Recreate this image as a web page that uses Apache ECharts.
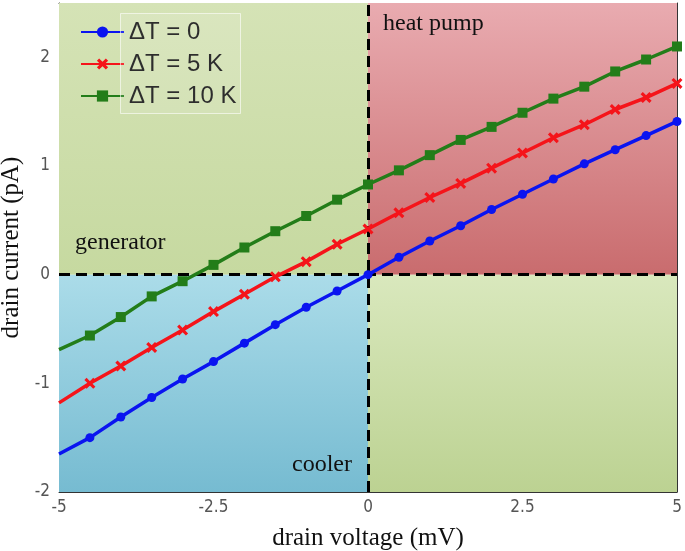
<!DOCTYPE html>
<html>
<head>
<meta charset="utf-8">
<script src="https://cdn.jsdelivr.net/npm/echarts@6/dist/echarts.min.js"></script>
<style>html,body{margin:0;padding:0;background:#fff;}#c{width:685px;height:551px;}</style>
</head>
<body>
<div id="c"></div>
<script>
// ---- data ----
var voltage = [-5, -4.5, -4, -3.5, -3, -2.5, -2, -1.5, -1, -0.5, 0, 0.5, 1, 1.5, 2, 2.5, 3, 3.5, 4, 4.5, 5];
var currentDT0 = [-1.65, -1.50, -1.31, -1.13, -0.96, -0.80, -0.63, -0.46, -0.30, -0.15, 0.00, 0.16, 0.31, 0.45, 0.60, 0.74, 0.88, 1.02, 1.15, 1.28, 1.41];
var currentDT5 = [-1.18, -1.00, -0.84, -0.67, -0.51, -0.34, -0.18, -0.02, 0.12, 0.28, 0.42, 0.57, 0.71, 0.84, 0.98, 1.12, 1.26, 1.38, 1.52, 1.63, 1.76];
var currentDT10 = [-0.69, -0.56, -0.39, -0.20, -0.06, 0.09, 0.25, 0.40, 0.54, 0.69, 0.83, 0.96, 1.10, 1.24, 1.36, 1.49, 1.62, 1.73, 1.87, 1.98, 2.10];
var seriesNames = ['\u0394T = 0', '\u0394T = 5 K', '\u0394T = 10 K'];
var xTicks = [-5, -2.5, 0, 2.5, 5];
var yTicks = [-2, -1, 0, 1, 2];
var quadrantLabels = ['generator', 'heat pump', 'cooler'];
var xLabel = 'drain voltage (mV)';
var yLabel = 'drain current (pA)';

// ---- chart ----
var chart = echarts.init(document.getElementById('c'), null, {renderer: 'canvas'});
var G = {left: 59, right: 8, top: 3, bottom: 59};
var serif = "'Liberation Serif', 'Times New Roman', serif";
var narrow = "'Liberation Sans Narrow', 'DejaVu Sans Condensed', 'Liberation Sans', sans-serif";

function pts(ys) {
  return voltage.map(function (x, i) {
    var item = {value: [x, ys[i]]};
    if (i === 0) item.symbol = 'none';
    return item;
  });
}
function grad(top, bottom) {
  return {type: 'linear', x: 0, y: 0, x2: 0, y2: 1,
    colorStops: [{offset: 0, color: top}, {offset: 1, color: bottom}]};
}
var crossPath = 'path://M0,2 L2,0 L5,3 L8,0 L10,2 L7,5 L10,8 L8,10 L5,7 L2,10 L0,8 L3,5 Z';

var option = {
  animation: false,
  backgroundColor: '#ffffff',
  grid: {left: G.left, right: G.right, top: G.top, bottom: G.bottom, containLabel: false, outerBoundsMode: 'none'},
  legend: {
    orient: 'vertical', left: 75, top: 15,
    itemWidth: 43, itemHeight: 14, itemGap: 8,
    data: seriesNames,
    textStyle: {fontFamily: "'Liberation Sans', Arial, sans-serif", fontSize: 24, color: '#111', lineHeight: 24}
  },
  xAxis: [{
    type: 'value', min: xTicks[0], max: xTicks[xTicks.length - 1], interval: 2.5,
    name: xLabel, nameLocation: 'middle', nameGap: 34,
    nameTextStyle: {fontFamily: serif, fontSize: 25, color: '#111'},
    axisLine: {show: true, onZero: false, lineStyle: {color: '#333', width: 1}},
    axisTick: {show: true, inside: true, length: 6, lineStyle: {color: '#333'}},
    axisLabel: {fontFamily: narrow, fontSize: 17, color: '#555', margin: 7,
      formatter: function (v) { return String(v); }},
    splitLine: {show: false}
  }, {
    type: 'value', position: 'top', min: xTicks[0], max: xTicks[xTicks.length - 1], interval: 2.5,
    axisLine: {show: true, onZero: false, lineStyle: {color: '#333', width: 1}},
    axisTick: {show: true, inside: true, length: 6, lineStyle: {color: '#333'}},
    axisLabel: {show: false}, splitLine: {show: false}
  }],
  yAxis: [{
    type: 'value', min: yTicks[0], max: 2.5, interval: 1,
    name: yLabel, nameLocation: 'middle', nameGap: 30, nameRotate: 90,
    nameTextStyle: {fontFamily: serif, fontSize: 25, color: '#111'},
    axisLine: {show: true, onZero: false, lineStyle: {color: '#333', width: 1}},
    axisTick: {show: true, inside: true, length: 6, lineStyle: {color: '#333'}},
    axisLabel: {fontFamily: narrow, fontSize: 17, color: '#555', margin: 9,
      formatter: function (v) { return yTicks.indexOf(v) >= 0 ? String(v) : ''; }},
    splitLine: {show: false}
  }, {
    type: 'value', position: 'right', min: yTicks[0], max: 2.5, interval: 1,
    axisLine: {show: true, onZero: false, lineStyle: {color: '#333', width: 1}},
    axisTick: {show: true, inside: true, length: 6, lineStyle: {color: '#333'}},
    axisLabel: {show: false}, splitLine: {show: false}
  }],
  graphic: [
    {type: 'rect', left: 120, top: 13, z: 100, silent: true,
      shape: {width: 120, height: 100},
      style: {fill: 'rgba(255,255,255,0.12)', stroke: 'rgba(255,255,255,0.6)', lineWidth: 1}},
    {type: 'text', left: 75, top: 231, z: 100,
      style: {text: quadrantLabels[0], font: '24px ' + serif, fill: '#111'}},
    {type: 'text', left: 383, top: 12, z: 100,
      style: {text: quadrantLabels[1], font: '24px ' + serif, fill: '#111'}},
    {type: 'text', left: 292, top: 453, z: 100,
      style: {text: quadrantLabels[2], font: '24px ' + serif, fill: '#111'}}
  ],
  series: [
    {
      name: seriesNames[0], type: 'line', data: pts(currentDT0),
      color: '#0a14f0', symbol: 'circle', symbolSize: 9, z: 5,
      lineStyle: {width: 3.5},
      markArea: {
        silent: true,
        data: [
          [{coord: [-5, 0], itemStyle: {color: grad('#d5e3b6', '#c6d9a0')}}, {coord: [0, 2.5]}],
          [{coord: [0, 0], itemStyle: {color: grad('#e9abb0', '#c96c6e')}}, {coord: [5, 2.5]}],
          [{coord: [-5, -2], itemStyle: {color: grad('#abdce9', '#76bbd1')}}, {coord: [0, 0]}],
          [{coord: [0, -2], itemStyle: {color: grad('#d9e8bd', '#bcd292')}}, {coord: [5, 0]}]
        ]
      },
      markLine: {
        silent: true, symbol: 'none', z: 3,
        label: {show: false},
        lineStyle: {color: '#000', type: [11, 6], width: 3},
        data: [{yAxis: 0}, {xAxis: 0}]
      }
    },
    {
      name: seriesNames[1], type: 'line', data: pts(currentDT5),
      color: '#f5141a', symbol: crossPath, symbolSize: 11, z: 5,
      lineStyle: {width: 3.5}
    },
    {
      name: seriesNames[2], type: 'line', data: pts(currentDT10),
      color: '#237d19', symbol: 'rect', symbolSize: 10, z: 5,
      lineStyle: {width: 3.5}
    }
  ]
};
chart.setOption(option);
</script>
</body>
</html>
